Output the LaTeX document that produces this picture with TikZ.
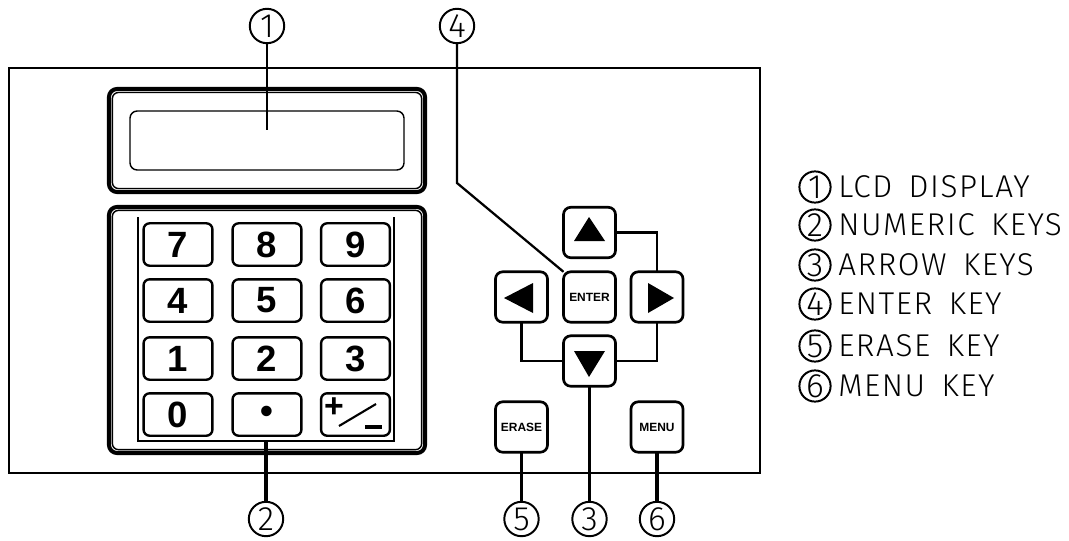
\documentclass[tikz,border=0pt]{standalone}
\usepackage{fontspec}
\setmainfont{Liberation Sans}
\newfontfamily\cadfont[LetterSpace=5,WordSpace=1.6]{Fira Sans Light}
\usetikzlibrary{arrows.meta,positioning}

\tikzset{
  bezel/.style={draw, line width=2.9pt, rounded corners=2mm, inner sep=0pt, outer sep=0pt},
  bezelin/.style={draw, line width=1pt, rounded corners=1.5mm, inner sep=0pt, outer sep=0pt},
  numkey/.style={draw, line width=1.7pt, rounded corners=1.5mm, inner sep=0pt, outer sep=0pt,
    minimum width=17.2mm, minimum height=10.6mm, font=\fontsize{26}{26}\selectfont\bfseries},
  arrkey/.style={draw, line width=1.9pt, rounded corners=1.8mm, inner sep=0pt, outer sep=0pt,
    minimum width=13mm, minimum height=12.6mm, font=\fontsize{8.5}{9}\selectfont\bfseries},
  callout/.style={draw, circle, line width=1.4pt, inner sep=0pt, outer sep=0pt,
    minimum size=8.6mm, font=\fontsize{24}{24}\cadfont},
  legendnum/.style={callout, minimum size=7.8mm},
  legendtxt/.style={anchor=west, inner sep=0pt, font=\fontsize{22.4}{24}\cadfont},
  leader/.style={line width=1.6pt},
}

\begin{document}
\begin{tikzpicture}[x=0.25mm, y=-0.25mm, >=stealth]
  \useasboundingbox (0,0) rectangle (1069,540);

  % Front panel
  \node[draw, line width=1.4pt, inner sep=0pt, minimum width=187.75mm, minimum height=101.25mm]
    (panel) at (384.5,270.5) {};

  % LCD display
  \node[bezel, minimum width=79mm, minimum height=25.75mm] (lcdbezel) at (267,140.5) {};
  \node[bezelin, minimum width=77.3mm, minimum height=24mm] (lcdinner) at (267,140.5) {};
  \node[draw, line width=1pt, rounded corners=1.8mm, inner sep=0pt, minimum width=68.5mm, minimum height=14.75mm]
    (lcdwindow) at (267,140.5) {};

  % Numeric keypad
  \node[bezel, minimum width=79mm, minimum height=61.5mm] (padbezel) at (267,330) {};
  \node[bezelin, minimum width=77.3mm, minimum height=59.8mm] (padinner) at (267,330) {};
  \coordinate (padtl) at (138,217);
  \coordinate (padtr) at (394,217);
  \coordinate (padbot) at (266,441);
  \draw[line width=2.1pt] (padtl) |- (padbot) -| (padtr);

  \foreach \lbl/\cx/\cy in {7/178/244.5, 8/267/244.5, 9/355.5/244.5,
                            4/178/300.5, 5/267/300.5, 6/355.5/300.5,
                            1/178/358.5, 2/267/358.5, 3/355.5/358.5,
                            0/178/414.5}
    \node[numkey] (key\lbl) at (\cx,\cy) {\lbl};
  \node[numkey] (keydot) at (267,414.5) {\textbullet};
  \node[numkey] (keysign) at (355.5,414.5) {};

  % Sign key
  \node[inner sep=0pt, font=\fontsize{24}{24}\selectfont\bfseries] (plusmark) at (334,408) {+};
  \draw[line width=1.5pt] (339,426) -- (376,404);
  \draw[line width=2.4pt] (365,427) -- (382,427);

  % Arrow keys and the keys below them
  \node[arrkey] (keyup)    at (589.5,232.5) {};
  \node[arrkey] (keyleft)  at (521.5,297) {};
  \node[arrkey] (keyenter) at (589.5,297) {ENTER};
  \node[arrkey] (keyright) at (657,297) {};
  \node[arrkey] (keydown)  at (589.5,361) {};
  \node[arrkey] (keyerase) at (521.5,427) {ERASE};
  \node[arrkey] (keymenu)  at (657,427) {MENU};

  \fill (589,217) -- (574,241) -- (605,241) -- cycle;
  \fill (504,298) -- (533,283) -- (533,313) -- cycle;
  \fill (674,298) -- (648,283) -- (648,313) -- cycle;
  \fill (589,377) -- (574,351) -- (605,351) -- cycle;

  \draw[leader] (keyup.east) -| (keyright.north);
  \draw[leader] (keyleft.south) |- (keydown.west);
  \draw[leader] (keyright.south) |- (keydown.east);

  % Callouts
  \node[callout] (call1) at (267,26) {1};
  \node[callout] (call4) at (457,26) {4};
  \node[callout] (call2) at (266,519) {2};
  \node[callout] (call5) at (521.5,519) {5};
  \node[callout] (call3) at (589.5,519) {3};
  \node[callout] (call6) at (657,519) {6};

  \coordinate (lcdend) at (267,130);
  \coordinate (bend4) at (457,183);
  \draw[leader] (call1) -- (lcdend);
  \draw[leader] (call4) -- (bend4) -- (keyenter.north west);
  \draw[line width=2.2pt] (call2) -- (padbot);
  \draw[leader] (call3) -- (keydown);
  \draw[leader] (call5) -- (keyerase);
  \draw[line width=2.6pt] (call6) -- (keymenu);

  % Legend
  \foreach \num/\cy/\txt in {1/187/LCD DISPLAY, 2/225/NUMERIC KEYS, 3/265/ARROW KEYS,
                             4/304/ENTER KEY, 5/346/ERASE KEY, 6/386/MENU KEY} {
    \node[legendnum] (leg\num) at (815,\cy) {\num};
    \node[legendtxt] (legtxt\num) at (838,\cy) {\txt};
  }
\end{tikzpicture}
\end{document}
